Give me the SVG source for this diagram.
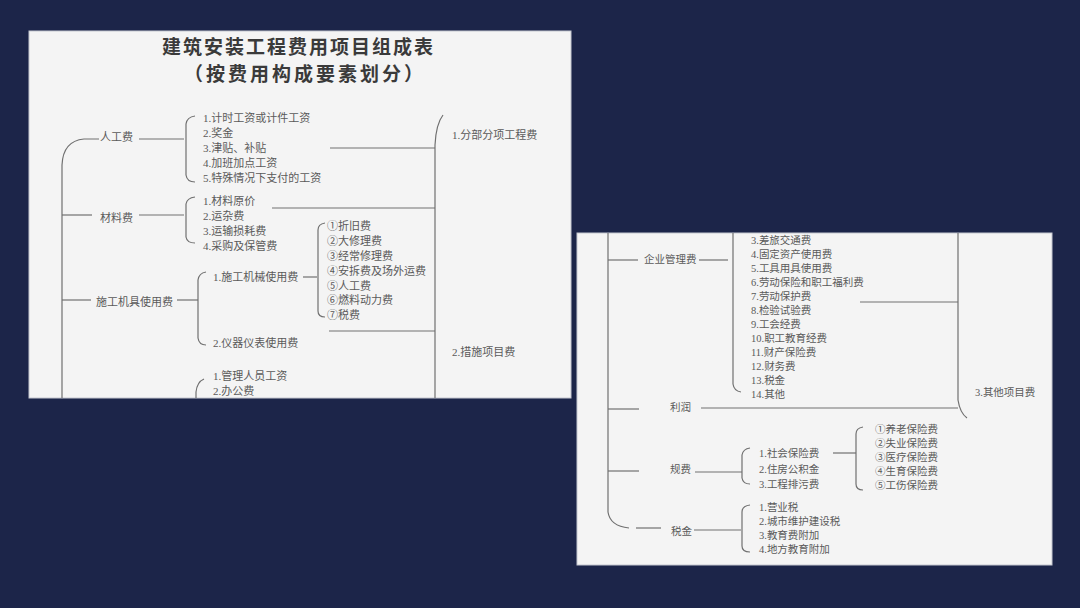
<svg xmlns="http://www.w3.org/2000/svg" width="1080" height="608" viewBox="0 0 1080 608">
<style>
.bg{fill:#1c2549}
.panel{fill:#f4f4f4;stroke:#c4c7d0;stroke-width:1}
.t{font-family:"Liberation Serif","Noto Sans CJK SC",serif;font-size:11px;fill:#5a5a5a;dominant-baseline:central}
.r{font-size:10.5px}
.title{font-family:"Liberation Serif","Noto Sans CJK SC",serif;font-size:19px;font-weight:bold;fill:#3a3a3a;dominant-baseline:central}
.ln{fill:none;stroke:#707070;stroke-width:1.2}
</style>
<rect class="bg" x="0" y="0" width="1080" height="608"/>
<g id="panel-left">
<rect class="panel" x="29" y="31" width="542" height="367"/>
</g>
<g id="panel-right">
<rect class="panel" x="577" y="233" width="475" height="332"/>
</g>
<g id="title">
<text class="title" x="162" y="47" letter-spacing="2">建筑安装工程费用项目组成表</text>
<text class="title" x="184" y="74" letter-spacing="3">（按费用构成要素划分）</text>
</g>
<g id="connectors">
<path class="ln" d="M99 139 L84 139 Q63 141 62 165 L62 398"/>
<path class="ln" d="M62 215 L92 215"/>
<path class="ln" d="M62 300 L91 300"/>
<path class="ln" d="M139 139 L184 139"/>
<path class="ln" d="M195 116 Q187 117 186 124 L186 175 Q187 182 195 182"/>
<path class="ln" d="M139 215 L184 215"/>
<path class="ln" d="M195 197 Q187 198 186 204 L186 237 Q187 243 195 243"/>
<path class="ln" d="M177 300 L198 300"/>
<path class="ln" d="M206 272 Q199 273 198 280 L198 338 Q199 345 206 345"/>
<path class="ln" d="M303 277 L317 277"/>
<path class="ln" d="M325 223 Q318 224 318 230 L318 311 Q318 317 325 317"/>
<path class="ln" d="M330 148 L435 148"/>
<path class="ln" d="M272 208 L435 208"/>
<path class="ln" d="M329 331 L435 331"/>
<path class="ln" d="M443 115 Q436 124 435 145 L435 398"/>
<path class="ln" d="M204 379 Q197 382 196 392 L196 398"/>
<path class="ln" d="M608 233 L608 512 Q610 526 629 528"/>
<path class="ln" d="M608 260 L638 260"/>
<path class="ln" d="M699 260 L728 260"/>
<path class="ln" d="M733 233 L733 384 Q734 391 741 392"/>
<path class="ln" d="M860 302 L958 302"/>
<path class="ln" d="M958 233 L958 400 Q960 413 967 418"/>
<path class="ln" d="M608 409 L639 409"/>
<path class="ln" d="M701 408 L958 408"/>
<path class="ln" d="M608 471 L639 471"/>
<path class="ln" d="M695 472 L742 472"/>
<path class="ln" d="M750 448 Q743 449 742 455 L742 478 Q743 484 750 484"/>
<path class="ln" d="M833 453 L856 453"/>
<path class="ln" d="M863 427 Q856 428 856 434 L856 484 Q856 490 863 490"/>
<path class="ln" d="M636 528 L661 528"/>
<path class="ln" d="M694 530 L741 530"/>
<path class="ln" d="M750 505 Q742 506 742 512 L742 546 Q742 552 750 552"/>
</g>
<g id="node-rengong">
<text class="t" x="100" y="137">人工费</text>
</g>
<g id="list-rengong">
<text class="t" x="203" y="118">1.计时工资或计件工资</text>
<text class="t" x="203" y="133">2.奖金</text>
<text class="t" x="203" y="148">3.津贴、补贴</text>
<text class="t" x="203" y="163">4.加班加点工资</text>
<text class="t" x="203" y="178">5.特殊情况下支付的工资</text>
</g>
<g id="node-cailiao">
<text class="t" x="100" y="218">材料费</text>
</g>
<g id="list-cailiao">
<text class="t" x="203" y="201">1.材料原价</text>
<text class="t" x="203" y="216">2.运杂费</text>
<text class="t" x="203" y="231">3.运输损耗费</text>
<text class="t" x="203" y="246">4.采购及保管费</text>
</g>
<g id="node-jiju">
<text class="t" x="96" y="302">施工机具使用费</text>
</g>
<g id="list-jiju">
<text class="t" x="213" y="277">1.施工机械使用费</text>
<text class="t" x="213" y="343">2.仪器仪表使用费</text>
</g>
<g id="list-jixie">
<text class="t" x="327" y="226">①折旧费</text>
<text class="t" x="327" y="241">②大修理费</text>
<text class="t" x="327" y="256">③经常修理费</text>
<text class="t" x="327" y="271">④安拆费及场外运费</text>
<text class="t" x="327" y="286">⑤人工费</text>
<text class="t" x="327" y="300">⑥燃料动力费</text>
<text class="t" x="327" y="315">⑦税费</text>
</g>
<g id="list-guanli-top">
<text class="t" x="213" y="376">1.管理人员工资</text>
<text class="t" x="213" y="391">2.办公费</text>
</g>
<g id="node-fenbu">
<text class="t" x="452" y="135">1.分部分项工程费</text>
</g>
<g id="node-cuoshi">
<text class="t" x="452" y="352">2.措施项目费</text>
</g>
<g id="node-qiye">
<text class="t r" x="644" y="259">企业管理费</text>
</g>
<g id="list-qiye">
<text class="t r" x="751" y="240">3.差旅交通费</text>
<text class="t r" x="751" y="254">4.固定资产使用费</text>
<text class="t r" x="751" y="268">5.工具用具使用费</text>
<text class="t r" x="751" y="282">6.劳动保险和职工福利费</text>
<text class="t r" x="751" y="296">7.劳动保护费</text>
<text class="t r" x="751" y="310">8.检验试验费</text>
<text class="t r" x="751" y="324">9.工会经费</text>
<text class="t r" x="751" y="338">10.职工教育经费</text>
<text class="t r" x="751" y="352">11.财产保险费</text>
<text class="t r" x="751" y="366">12.财务费</text>
<text class="t r" x="751" y="380">13.税金</text>
<text class="t r" x="751" y="394">14.其他</text>
</g>
<g id="node-qita">
<text class="t r" x="975" y="392">3.其他项目费</text>
</g>
<g id="node-lirun">
<text class="t r" x="670" y="407">利润</text>
</g>
<g id="node-guifei">
<text class="t r" x="670" y="469">规费</text>
</g>
<g id="list-guifei">
<text class="t r" x="759" y="453">1.社会保险费</text>
<text class="t r" x="759" y="469">2.住房公积金</text>
<text class="t r" x="759" y="484">3.工程排污费</text>
</g>
<g id="list-shebao">
<text class="t r" x="875" y="429">①养老保险费</text>
<text class="t r" x="875" y="443">②失业保险费</text>
<text class="t r" x="875" y="457">③医疗保险费</text>
<text class="t r" x="875" y="471">④生育保险费</text>
<text class="t r" x="875" y="485">⑤工伤保险费</text>
</g>
<g id="node-shuijin">
<text class="t r" x="671" y="531">税金</text>
</g>
<g id="list-shuijin">
<text class="t r" x="759" y="507">1.营业税</text>
<text class="t r" x="759" y="521">2.城市维护建设税</text>
<text class="t r" x="759" y="535">3.教育费附加</text>
<text class="t r" x="759" y="549">4.地方教育附加</text>
</g>
</svg>
